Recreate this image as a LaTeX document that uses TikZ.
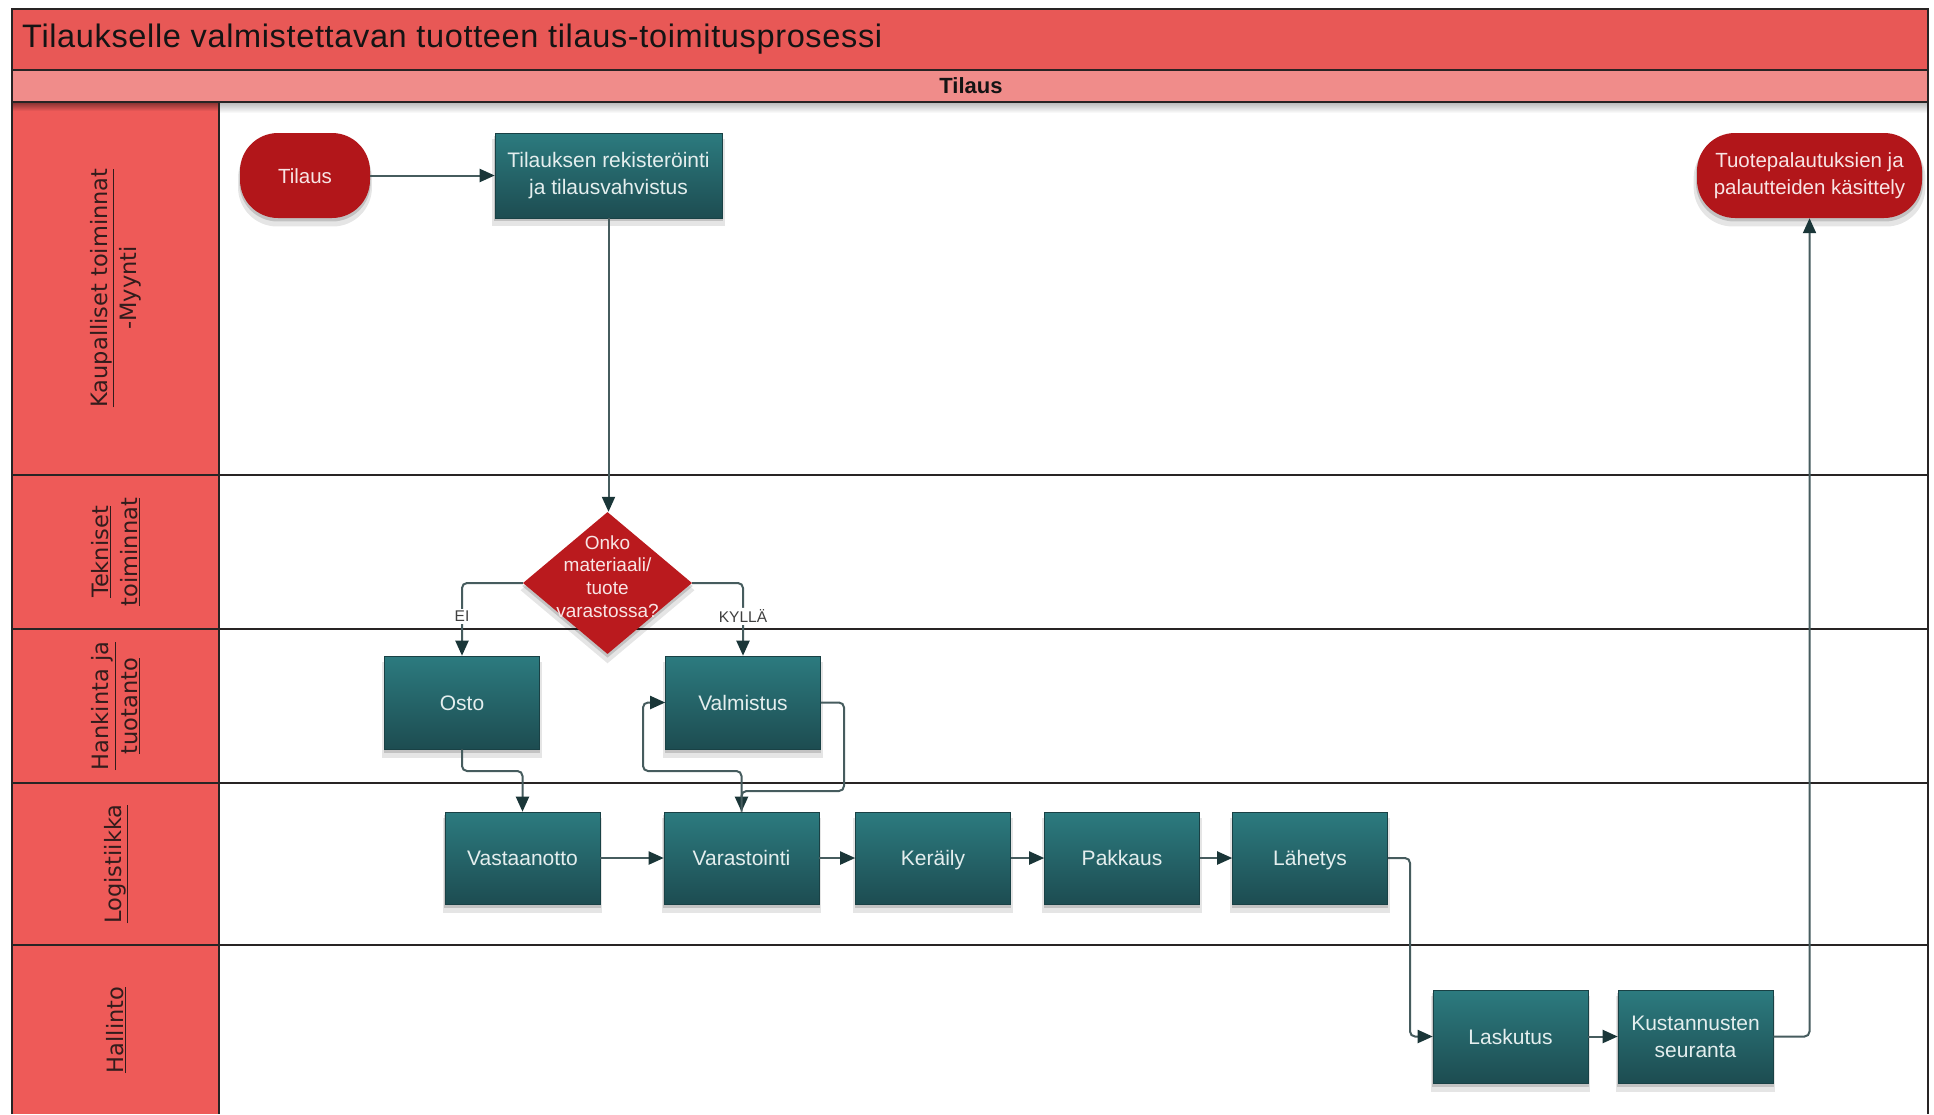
\documentclass[tikz,border=0pt]{standalone}
\usepackage{fontspec}
\setmainfont{Liberation Sans}
\newfontfamily\lanefont{DejaVu Sans}
\newfontfamily\titlefont[LetterSpace=2]{Liberation Sans}
\usetikzlibrary{shapes.geometric,arrows.meta,shadows}

\definecolor{titleRed}{RGB}{232,88,86}
\definecolor{subPink}{RGB}{240,140,138}
\definecolor{laneRed}{RGB}{238,90,88}
\definecolor{frameDark}{RGB}{40,36,36}
\definecolor{tealTop}{RGB}{44,123,127}
\definecolor{tealBot}{RGB}{29,76,81}
\definecolor{termRed}{RGB}{178,22,26}
\definecolor{decRed}{RGB}{186,26,30}
\definecolor{lineCol}{RGB}{70,92,94}
\definecolor{arrowCol}{RGB}{26,54,56}
\definecolor{boxText}{RGB}{228,238,238}
\definecolor{termText}{RGB}{248,228,228}
\definecolor{laneText}{RGB}{50,28,28}

\begin{document}
\begin{tikzpicture}[x=1pt,y=-1pt,
  softshadow/.style={
    general shadow={shadow xshift=0pt,shadow yshift=-3pt,shadow scale=1.01,fill=black,opacity=0.15},
    general shadow={shadow xshift=0pt,shadow yshift=-7pt,shadow scale=1.03,fill=black,opacity=0.10}},
  procbox/.style={rectangle,minimum width=155pt,minimum height=93pt,inner sep=4pt,
    top color=tealTop,bottom color=tealBot,draw=tealBot!85!black,line width=0.6pt,
    text=boxText,font=\fontsize{21}{27}\selectfont,align=center,softshadow},
  oneline/.style={text height=15pt,text depth=0pt},
  term/.style={rectangle,rounded corners=38pt,minimum height=85pt,inner sep=4pt,
    fill=termRed,text=termText,font=\fontsize{20.5}{27}\selectfont,align=center,softshadow},
  decision/.style={diamond,minimum width=169pt,minimum height=142pt,inner sep=0pt,
    fill=decRed,text=termText,font=\fontsize{19}{22.6}\selectfont,softshadow},
  conn/.style={draw=lineCol,line width=2pt,rounded corners=5pt,
    -{Triangle[length=15pt,width=13pt,color=arrowCol]}},
  branchlbl/.style={fill=white,inner sep=2pt,text=black!75,font=\fontsize{15.5}{17}\selectfont},
  lanelbl/.style={rotate=90,align=center,text=laneText,font=\lanefont\fontsize{22.5}{29}\selectfont},
  sepline/.style={draw=frameDark,line width=2pt}
]
\useasboundingbox (0,0) rectangle (1934,1114);
\fill[white] (0,0) rectangle (1934,1114);

% header bands
\fill[titleRed] (12,9) rectangle (1928,70);
\fill[subPink] (12,70) rectangle (1928,102);
% lane header column
\fill[laneRed] (12,102) rectangle (219,1114);
% soft shadow below the header bands
\shade[top color=black!28,bottom color=white] (219,102) rectangle (1928,113);
\shade[top color=laneRed!55!black,bottom color=laneRed] (12,102) rectangle (219,111);

% frame and lane separators
\draw[sepline] (12,1114) -- (12,9) -- (1928,9) -- (1928,1114);
\draw[sepline] (12,70) -- (1928,70);
\draw[sepline] (12,102) -- (1928,102);
\draw[sepline] (219,102) -- (219,1114);
\foreach \yy in {475,629,783,945}
  \draw[sepline] (12,\yy) -- (1928,\yy);

% titles
\node[anchor=west,inner sep=0pt,text=black!92,font=\titlefont\fontsize{32.5}{36}\selectfont]
  (title) at (22,39) {Tilaukselle valmistettavan tuotteen tilaus-toimitusprosessi};
\node[inner sep=0pt,text=black!92,font=\bfseries\fontsize{22}{24}\selectfont]
  (phase) at (971,86) {Tilaus};

% lane labels
\node[lanelbl] (lane1) at (115.5,288) {\underline{Kaupalliset toiminnat}\\-Myynti};
\node[lanelbl] (lane2) at (116,552) {\underline{Tekniset}\\\underline{toiminnat}};
\node[lanelbl] (lane3) at (116,706) {\underline{Hankinta ja}\\\underline{tuotanto}};
\node[lanelbl] (lane4) at (116,864) {\underline{Logistiikka}};
\node[lanelbl] (lane5) at (116,1030) {\underline{Hallinto}};

% process nodes
\node[term,oneline,minimum width=130pt] (tilaus) at (305,175.5) {Tilaus};
\node[procbox,minimum width=227pt,minimum height=85pt] (reg) at (608.5,175.5)
  {Tilauksen rekisteröinti\\ja tilausvahvistus};
\node[term,minimum width=225pt] (palaute) at (1809.5,175.5)
  {Tuotepalautuksien ja\\palautteiden käsittely};
\node[decision] (dec) at (607.5,583)
  {\makebox[0pt]{\smash{\begin{tabular}{@{}c@{}}Onko\\materiaali/\\tuote\\varastossa?\end{tabular}}}};
\node[procbox,oneline] (osto) at (462,702.5) {Osto};
\node[procbox,oneline] (valm) at (743,702.5) {Valmistus};
\node[procbox,oneline,minimum height=92pt] (vast) at (522.5,858) {Vastaanotto};
\node[procbox,oneline,minimum height=92pt] (vara) at (741.5,858) {Varastointi};
\node[procbox,oneline,minimum height=92pt] (kera) at (933,858) {Keräily};
\node[procbox,oneline,minimum height=92pt] (pakk) at (1122,858) {Pakkaus};
\node[procbox,oneline,minimum height=92pt] (lahe) at (1310,858) {Lähetys};
\node[procbox,oneline] (lask) at (1510.5,1036.5) {Laskutus};
\node[procbox] (kust) at (1695.5,1036.5) {Kustannusten\\seuranta};

% bend points of the routed connectors
\coordinate (ostoDown) at (462,771);
\coordinate (loopL) at (643,771);
\coordinate (loopR) at (844,791);
\coordinate (shipBend) at (1410,1036.5);
\coordinate (costBend) at (1809.5,1036.5);

% connectors
\draw[conn] (tilaus.east) -- (reg.west);
\draw[conn] (reg.south) -- (reg.south |- dec.north);
\draw[conn] (dec.west) -| node[branchlbl,pos=0.73] {EI} (osto.north);
\draw[conn] (dec.east) -| node[branchlbl,pos=0.73] {KYLLÄ} (valm.north);
\draw[conn] (osto.south) -- (ostoDown) -| (vast.north);
\draw[conn] (valm.east) -| (loopR) -| (vara.north);
\draw[conn] (vara.north) |- (loopL) |- (valm.west);
\draw[conn] (vast.east) -- (vara.west);
\draw[conn] (vara.east) -- (kera.west);
\draw[conn] (kera.east) -- (pakk.west);
\draw[conn] (pakk.east) -- (lahe.west);
\draw[conn] (lahe.east) -| (shipBend) -- (lask.west);
\draw[conn] (lask.east) -- (kust.west);
\draw[conn] (kust.east) -- (costBend) -- (palaute.south);
\end{tikzpicture}
\end{document}
